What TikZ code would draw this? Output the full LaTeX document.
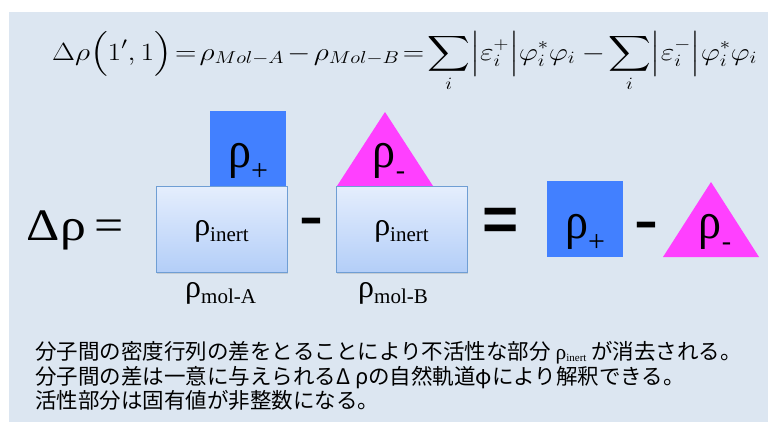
\documentclass[tikz,border=0pt]{standalone}
\usepackage{amsmath}
\usepackage{fontspec}
\setmainfont{Liberation Serif}
\newfontfamily\jpfont{Noto Sans CJK JP}
\newfontfamily\opfont{Liberation Sans}
\usetikzlibrary{shadows}
\definecolor{panel}{HTML}{DCE6F1}
\definecolor{pblue}{HTML}{4280FF}
\definecolor{pmag}{HTML}{FF40FF}
\definecolor{boxtop}{HTML}{E5EEFD}
\definecolor{boxbot}{HTML}{B3CEF8}
\definecolor{boxline}{HTML}{6F9ED4}
\newcommand\myrhoplus{\scalebox{1}[1.12]{\fontsize{46}{46}\selectfont ρ}\raisebox{-13pt}{\fontsize{30}{30}\selectfont +}}
\newcommand\myrhominus{\scalebox{1}[1.12]{\fontsize{46}{46}\selectfont ρ}\raisebox{-12pt}{\fontsize{28}{28}\selectfont -}}
\newcommand\myrhosub[1]{{\fontsize{32}{32}\selectfont ρ}\raisebox{-6pt}{\fontsize{21}{21}\selectfont #1}}
\tikzset{
  inertbox/.style={draw=boxline, line width=1pt, top color=boxtop, bottom color=boxbot,
    minimum width=131pt, minimum height=86pt, inner sep=0pt,
    drop shadow={opacity=0.25, shadow xshift=1pt, shadow yshift=-1.5pt}},
  bluesq/.style={fill=pblue, minimum width=76pt, minimum height=76pt, inner sep=0pt},
  lbl/.style={inner sep=0pt, anchor=base},
  opsign/.style={inner sep=0pt, font=\opfont\bfseries},
  jp/.style={inner sep=0pt, anchor=base west, font=\jpfont\fontsize{21.5}{25}\selectfont}
}
\begin{document}
\begin{tikzpicture}[x=1pt,y=-1pt]
\useasboundingbox (0,0) rectangle (768,423);
\fill[white] (0,0) rectangle (768,423);
\fill[panel] (9,12) rectangle (768,422);
% top formula
\node[inner sep=0pt, anchor=base west] (formula) at (52,60)
  {\fontsize{26}{30}\selectfont\thickmuskip=2mu\medmuskip=2mu\resizebox{705pt}{\height}{$\displaystyle \Delta\rho\Bigl(1',1\Bigr)=\rho_{Mol-A}-\rho_{Mol-B}=\sum_i\Bigl|\varepsilon_i^+\Bigr|\varphi_i^*\varphi_i\;-\sum_i\Bigl|\varepsilon_i^-\Bigr|\varphi_i^*\varphi_i$}};
% left side
\node[inner sep=0pt, anchor=base west, font=\fontsize{45}{45}\selectfont] (lhs) at (26,240) {\scalebox{1.15}[1]{Δ\kern1ptρ\kern7pt=}};
% boxes and parts
\node[bluesq] (sqA) at (248,148.5) {};
\node[lbl] (rpA) at ([yshift=-19pt]sqA.center) {\myrhoplus};
\coordinate (tL) at (337,186);
\coordinate (tR) at (433,186);
\coordinate (tA) at (385,112);
\fill[pmag] (tL) -- (tA) -- (tR) -- cycle;
\node[lbl] (rmB) at (389,167) {\myrhominus};
\node[inertbox] (boxA) at (221.5,229) {};
\node[inertbox] (boxB) at (401.5,229) {};
\node[lbl] (inA) at ([yshift=-6pt]boxA.center) {\myrhosub{inert}};
\node[lbl] (inB) at ([yshift=-6pt]boxB.center) {\myrhosub{inert}};
\node[inner sep=0pt, anchor=base west] (molA) at (185,297) {\myrhosub{mol-A}};
\node[inner sep=0pt, anchor=base west] (molB) at (358,297) {\myrhosub{mol-B}};
\node[opsign] (m1) at (311,226) {\scalebox{1.5}[1]{\fontsize{48}{48}\selectfont -}};
\node[opsign] (eq) at (501,224) {\fontsize{62}{62}\selectfont =};
% right side
\node[bluesq] (sqR) at (585,219) {};
\node[lbl] (rpR) at ([yshift=-19pt]sqR.center) {\myrhoplus};
\node[opsign] (m2) at (646,230) {\scalebox{1.5}[1]{\fontsize{48}{48}\selectfont -}};
\coordinate (uL) at (663,257);
\coordinate (uR) at (759,257);
\coordinate (uA) at (711,182);
\fill[pmag] (uL) -- (uA) -- (uR) -- cycle;
\node[lbl] (rmR) at (715,238) {\myrhominus};
% Japanese text
\node[jp] (jp1) at (35,359) {分子間の密度行列の差をとることにより不活性な部分 {\rmfamily ρ}\raisebox{-2pt}{\rmfamily\fontsize{11}{11}\selectfont inert} が消去される。};
\node[jp] (jp2) at (35,384) {分子間の差は一意に与えられるΔ ρの自然軌道φにより解釈できる。};
\node[jp] (jp3) at (35,408) {活性部分は固有値が非整数になる。};
\end{tikzpicture}
\end{document}
